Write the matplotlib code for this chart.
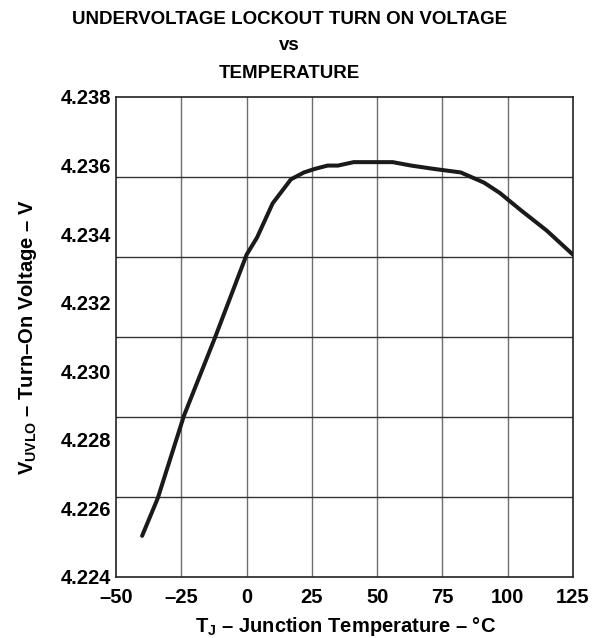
import matplotlib
matplotlib.use("Agg")
import matplotlib.pyplot as plt

# Data
temperature_c = [-40, -34, -24, -12, 0, 4, 10, 13, 17, 22, 26, 31, 35, 41, 50,
                 56, 63, 72, 82, 91, 97, 105, 115, 125]
uvlo_v = [4.2252, 4.2263, 4.2287, 4.2310, 4.2334, 4.2339, 4.2349, 4.2352,
          4.2356, 4.2358, 4.2359, 4.2360, 4.2360, 4.2361, 4.2361, 4.2361,
          4.2360, 4.2359, 4.2358, 4.2355, 4.2352, 4.2347, 4.2341, 4.2334]
x_ticks = [-50, -25, 0, 25, 50, 75, 100, 125]
x_labels = ["\u201350", "\u201325", "0", "25", "50", "75", "100", "125"]
y_ticks = [4.224, 4.226, 4.228, 4.230, 4.232, 4.234, 4.236, 4.238]
y_labels = ["4.224", "4.226", "4.228", "4.230", "4.232", "4.234", "4.236", "4.238"]

plt.rcParams['font.family'] = ['Liberation Sans', 'DejaVu Sans']
plt.rcParams['font.weight'] = 'bold'
plt.rcParams['mathtext.fontset'] = 'custom'
plt.rcParams['mathtext.bf'] = 'Liberation Sans:bold'
plt.rcParams['mathtext.rm'] = 'Liberation Sans:bold'

fig = plt.figure(figsize=(6.05, 6.38), dpi=100)
ax = fig.add_axes([116 / 605, 1 - 577 / 638, 457 / 605, 480 / 638])

ymin, ymax = y_ticks[0], y_ticks[-1]
ax.set_xlim(x_ticks[0], x_ticks[-1])
ax.set_ylim(ymin, ymax)

# vertical grid
for xv in x_ticks[1:-1]:
    ax.axvline(xv, color='#6e6e6e', lw=1.0, zorder=1)
# horizontal grid: 6 equal divisions (independent of labels)
for k in range(1, 6):
    ax.axhline(ymin + k * (ymax - ymin) / 6, color='#333333', lw=1.0, zorder=1)

ax.plot(temperature_c, uvlo_v, color='#1a1a1a', lw=2.9, zorder=3,
        solid_joinstyle='round', solid_capstyle='round')

ax.set_xticks(x_ticks)
ax.set_xticklabels(x_labels, fontsize=14.5, fontweight='bold')
ax.set_yticks(y_ticks)
ax.set_yticklabels(y_labels, fontsize=14.5, fontweight='bold')
ax.tick_params(axis='both', length=0)
ax.tick_params(axis='x', pad=8)
ax.tick_params(axis='y', pad=3.5)
for s in ax.spines.values():
    s.set_linewidth(1.2)
    s.set_color('#222222')

fig.text(346 / 605, 1 - 626 / 638, "T$_{\\mathbf{J}}$ \u2013 Junction Temperature \u2013 \u00b0C",
         ha='center', va='center', fontsize=14.5, fontweight='bold')
fig.text(28 / 605, 1 - 337 / 638, "V$_{\\mathbf{UVLO}}$ \u2013 Turn\u2013On Voltage \u2013 V",
         ha='center', va='center', rotation=90, fontsize=14.5, fontweight='bold')

fig.text(0.479, 1 - 19 / 638, "UNDERVOLTAGE LOCKOUT TURN ON VOLTAGE", ha='center', va='center',
         fontsize=13.5, fontweight='bold')
fig.text(0.479, 1 - 46 / 638, "vs", ha='center', va='center', fontsize=13.5, fontweight='bold')
fig.text(0.479, 1 - 74 / 638, "TEMPERATURE", ha='center', va='center', fontsize=13.5, fontweight='bold')

fig.savefig("out.png", dpi=100)
